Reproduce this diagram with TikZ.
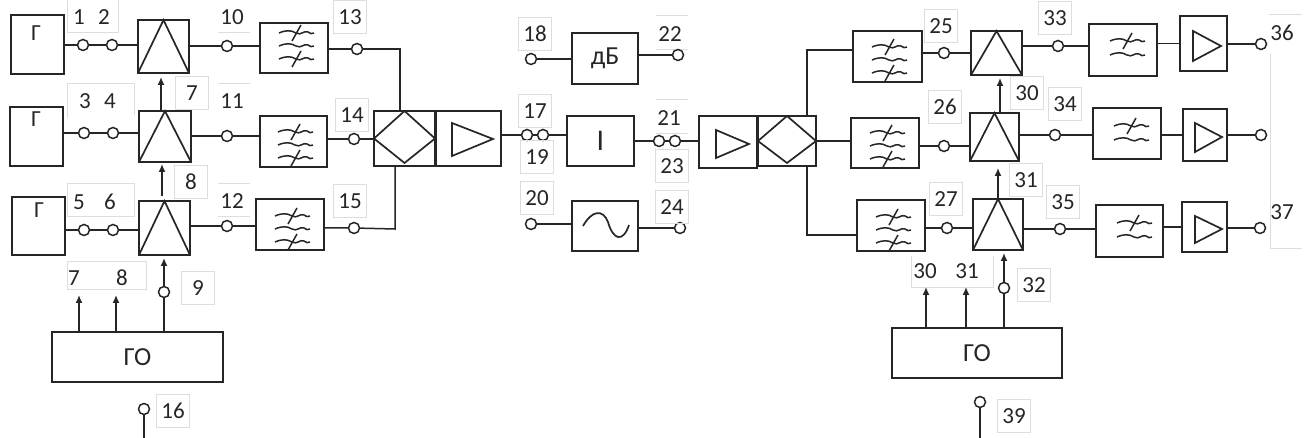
\documentclass[tikz,border=0pt]{standalone}
\usepackage{fontspec}
\setmainfont{Carlito}
\definecolor{ink}{HTML}{262626}
\definecolor{faint}{HTML}{DDDDDD}
\usetikzlibrary{arrows.meta}
\tikzset{
  wire/.style={draw=ink,line width=1.5pt},
  arrowwire/.style={wire,-{Latex[length=8pt,width=7pt]}},
  bx/.style={draw=ink,line width=1.7pt,fill=white,inner sep=0pt,outer sep=0pt,font=\fontsize{26}{26}\selectfont,text=ink},
  term/.style={circle,draw=ink,line width=1.5pt,fill=white,minimum size=11pt,inner sep=0pt},
  lab/.style={inner sep=0pt,font=\fontsize{23}{23}\selectfont,text=ink},
  flab/.style={lab,draw=faint,line width=.8pt,minimum width=33pt,minimum height=33pt},
  glyph/.style={draw=ink,line width=1.7pt,line join=miter},
  faintline/.style={draw=faint,line width=1pt},
  wave/.pic={\draw[draw=ink,line width=1.5pt] (-17,0) .. controls (-10,-3) and (-5,-3) .. (0,0) .. controls (5,3) and (8,-3) .. (12,-1) .. controls (14,1) and (16,1) .. (18,0);},
  slash/.pic={\draw[draw=ink,line width=1.5pt] (-4,8) -- (5,-8);},
  filtthree/.pic={
    \pic at (0,-13) {wave}; \pic at (0,0) {wave}; \pic at (0,13) {wave};
    \pic at (0,-13) {slash}; \pic at (0,13) {slash};},
  filttwo/.pic={
    \pic at (0,-7) {wave}; \pic at (0,7) {wave};
    \pic at (0,-7) {slash};}
}
\newcommand{\mkbox}[6]{%
  \pgfmathsetmacro{\bcx}{(#2+#4)/2}\pgfmathsetmacro{\bcy}{(#3+#5)/2}%
  \pgfmathsetmacro{\bw}{#4-#2}\pgfmathsetmacro{\bh}{#5-#3}%
  \node[bx,minimum width=\bw pt,minimum height=\bh pt] (#1) at (\bcx,\bcy) {#6};}
\newcommand{\peak}[1]{\draw[glyph] (#1.south west) -- (#1.north) -- (#1.south east);}
\newcommand{\rhomb}[1]{\draw[glyph] (#1.west) -- (#1.north) -- (#1.east) -- ([yshift=3pt]#1.south) -- cycle;}
\begin{document}
\begin{tikzpicture}[x=1pt,y=-1pt]
\useasboundingbox[fill=white] (0,0) rectangle (1310,438);
% faint label frames with open sides
\draw[faintline] (67,0) -- (67,33) -- (118,33) -- (118,0);
\draw[faintline] (67,118) -- (67,84) -- (134,84) -- (134,115);
\draw[faintline] (67,217) -- (67,184) -- (134,184) -- (134,217) -- cycle;
\draw[faintline] (218,33) -- (250,33);
\draw[faintline] (218,84) -- (250,84);
\draw[faintline] (218,184) -- (250,184) (218,217) -- (250,217);
\draw[faintline] (67,262) -- (146,262) -- (146,290) -- (67,290) -- cycle;
\draw[faintline] (656,16) -- (688,16) (656,50) -- (688,50);
\draw[faintline] (656,100) -- (688,100) (656,134) -- (688,134);
\draw[faintline] (911,256) -- (911,288) -- (993,288) -- (993,256);
\draw[faintline] (1269,15) -- (1302,15);
\draw[faintline] (1270,53) -- (1270,249) -- (1302,249);
% Left generators
\mkbox{g1}{11}{15}{64}{74}{}
\mkbox{g2}{10}{107}{63}{166}{}
\mkbox{g3}{12}{197}{65}{255}{}
\node[lab] (gt1) at (36,33) {Г};
\node[lab] (gt2) at (36,119) {Г};
\node[lab] (gt3) at (39,210) {Г};
% Left switches
\mkbox{a1}{138}{20}{189}{73}{}
\mkbox{a2}{139}{111}{191}{162}{}
\mkbox{a3}{139}{201}{190}{255}{}
\peak{a1}\peak{a2}\peak{a3}
% Left filters
\mkbox{f1}{260}{23}{328}{73}{}
\mkbox{f2}{260}{116}{327}{167}{}
\mkbox{f3}{256}{199}{324}{250}{}
\pic at (296,46) {filtthree};
\pic at (295,145) {filtthree};
\pic at (292,229) {filtthree};
% Left mixer and amp
\mkbox{m1}{374}{111}{435}{166}{}
\mkbox{p1}{436}{111}{501}{166}{}
\rhomb{m1}
\draw[glyph] (452,123) -- (493,139) -- (452,156) -- cycle;
% Centre boxes
\mkbox{db}{572}{33}{638}{84}{дБ}
\mkbox{ii}{567}{116}{634}{166}{\fontsize{30}{30}\selectfont I}
\mkbox{sw}{572}{201}{638}{251}{}
\draw[draw=ink,line width=1.7pt] (583,226) .. controls (592,210) and (603,209) .. (608,222) .. controls (613,240) and (623,243) .. (629,225);
% Right amp and mixer
\mkbox{p2}{699}{116}{757}{168}{}
\mkbox{m2}{758}{116}{816}{166}{}
\rhomb{m2}
\draw[glyph] (716,130) -- (749,144) -- (716,158) -- cycle;
% Right filters (input)
\mkbox{f4}{853}{31}{922}{82}{}
\mkbox{f5}{851}{118}{919}{168}{}
\mkbox{f6}{857}{200}{925}{251}{}
\pic at (889,60) {filtthree};
\pic at (887,146) {filtthree};
\pic at (893,230) {filtthree};
% Right switches
\mkbox{a4}{971}{31}{1022}{75}{}
\mkbox{a5}{970}{113}{1019}{161}{}
\mkbox{a6}{973}{199}{1023}{250}{}
\peak{a4}\peak{a5}\peak{a6}
% Right filters (output)
\mkbox{f7}{1089}{24}{1157}{76}{}
\mkbox{f8}{1093}{108}{1161}{159}{}
\mkbox{f9}{1096}{205}{1163}{257}{}
\pic at (1127,48) {filttwo};
\pic at (1131,133) {filttwo};
\pic at (1134,230) {filttwo};
% Output amps
\mkbox{p3}{1180}{16}{1227}{71}{}
\mkbox{p4}{1183}{109}{1227}{161}{}
\mkbox{p5}{1182}{202}{1227}{252}{}
\draw[glyph] (1193,31) -- (1221,46) -- (1193,61) -- cycle;
\draw[glyph] (1195,123) -- (1222,137) -- (1195,152) -- cycle;
\draw[glyph] (1195,216) -- (1222,229) -- (1195,243) -- cycle;
% GO boxes
\mkbox{go1}{52}{332}{223}{382}{ГО}
\mkbox{go2}{892}{328}{1062}{378}{ГО}
% Terminals
\foreach \n/\x/\y in {t1/83/45,t2/112/45,t3/84/133,t4/113/133,t5/84/230,t6/113/230,
  t10/227/46,t11/227/136,t12/227/226,t13/357/49,t14/354/139,t15/354/228,
  t17/527/135,t19/543/135,t18/531/59,t22/678/55,t20/531/224,t24/680/228,t21/659/141,t23/675/141,
  t25/944/53,t26/944/146,t27/947/228,t33/1058/46,t34/1055/135,t35/1060/229,
  t36/1261/44,t38/1261/135,t37/1260/228,t9/164/292,t16/144/409,t32/1004/288,t39/980/402}
  {\node[term] (\n) at (\x,\y) {};}
% Free ends and bends
\coordinate (b13) at (400,49);
\coordinate (b15) at (395,229);
\coordinate (b25) at (807,50);
\coordinate (b27) at (807,235);
\coordinate (e16) at (144,438);
\coordinate (e39) at (980,438);
\coordinate (s1) at (161,77);
\coordinate (s2) at (162,164);
\coordinate (s2a) at (162,196);
\coordinate (s3) at (164,258);
\coordinate (s4) at (1000,78);
\coordinate (s5) at (998,168);
\coordinate (s6) at (1004,253);
\coordinate (u1) at (79,295);
\coordinate (u2) at (116,295);
\coordinate (u3) at (926,287);
\coordinate (u4) at (966,287);
% Left connectors
\draw[wire] (g1.east |- t1) -- (t1) -- (t2) -- (a1.west |- t2);
\draw[wire] (g2.east |- t3) -- (t3) -- (t4) -- (a2.west |- t4);
\draw[wire] (g3.east |- t5) -- (t5) -- (t6) -- (a3.west |- t6);
\draw[wire] (a1.east |- t10) -- (t10) -- (f1.west |- t10);
\draw[wire] (a2.east |- t11) -- (t11) -- (f2.west |- t11);
\draw[wire] (a3.east |- t12) -- (t12) -- (f3.west |- t12);
\draw[wire] (f1.east |- t13) -- (t13) -- (b13) -- (b13 |- m1.north);
\draw[wire] (f2.east |- t14) -- (t14) -- (m1.west |- t14);
\draw[wire] (f3.east |- t15) -- (t15) -- (b15) -- (b15 |- m1.south);
\draw[arrowwire] (s1 |- a2.north) -- (s1);
\draw[arrowwire] (s2a) -- (s2);
\draw[wire] (t9) -- (t9 |- go1.north);
\draw[arrowwire] (t9) -- (s3);
\draw[arrowwire] (u1 |- go1.north) -- (u1);
\draw[arrowwire] (u2 |- go1.north) -- (u2);
\draw[wire] (t16) -- (e16);
% Centre connectors
\draw[wire] (p1.east |- t17) -- (t17) -- (t19) -- (ii.west |- t19);
\draw[wire] (t18) -- (db.west |- t18);
\draw[wire] (db.east |- t22) -- (t22);
\draw[wire] (t20) -- (sw.west |- t20);
\draw[wire] (sw.east |- t24) -- (t24);
\draw[wire] (ii.east |- t21) -- (t21) -- (t23) -- (p2.west |- t23);
% Right connectors
\draw[wire] (b25 |- m2.north) -- (b25) -- (f4.west |- b25);
\draw[wire] (m2.east) -- (f5.west |- m2.east);
\draw[wire] (b27 |- m2.south) -- (b27) -- (f6.west |- b27);
\draw[wire] (f4.east |- t25) -- (t25) -- (a4.west |- t25);
\draw[wire] (f5.east |- t26) -- (t26) -- (a5.west |- t26);
\draw[wire] (f6.east |- t27) -- (t27) -- (a6.west |- t27);
\draw[wire] (a4.east |- t33) -- (t33) -- (f7.west |- t33);
\draw[wire] (a5.east |- t34) -- (t34) -- (f8.west |- t34);
\draw[wire] (a6.east |- t35) -- (t35) -- (f9.west |- t35);
\draw[wire] (f7.east |- p3.west) -- (p3.west);
\draw[wire] (f8.east |- p4.west) -- (p4.west);
\draw[wire] (f9.east |- p5.west) -- (p5.west);
\draw[wire] (p3.east |- t36) -- (t36);
\draw[wire] (p4.east |- t38) -- (t38);
\draw[wire] (p5.east |- t37) -- (t37);
\draw[arrowwire] (s4 |- a5.north) -- (s4);
\draw[arrowwire] (s5 |- a6.north) -- (s5);
\draw[wire] (t32) -- (t32 |- go2.north);
\draw[arrowwire] (t32) -- (s6);
\draw[arrowwire] (u3 |- go2.north) -- (u3);
\draw[arrowwire] (u4 |- go2.north) -- (u4);
\draw[wire] (t39) -- (e39);
% Plain labels
\foreach \n/\t/\x/\y in {l1/1/79/17,l2/2/104/17,l3/3/85/101,l4/4/110/101,l5/5/79/202,l6/6/110/202,
  l10/10/232/17,l11/11/232/101,l12/12/232/201,l7b/7/74/278,l8b/8/122/278,
  l21/21/669/118,l22/22/670/34,l30b/30/925/271,l31b/31/967/271,l36/36/1282/33,l37/37/1282/212}
  {\node[lab] (\n) at (\x,\y) {\t};}
% Framed labels
\foreach \n/\t/\x/\y in {l7/7/192/93,l8/8/191/182,l9/9/198/288,l13/13/350/17,l14/14/352/115,l15/15/350/201,l16/16/173/411,
  l17/17/535/111,l18/18/535/34,l19/19/537/157,l20/20/537/198,l23/23/672/166,l24/24/672/207,
  l25/25/941/26,l26/26/945/107,l27/27/946/199,l30/30/1027/93,l31/31/1026/180,l32/32/1034/285,
  l33/33/1055/18,l34/34/1065/104,l35/35/1063/202,l39/39/1014/416}
  {\node[flab] (\n) at (\x,\y) {\t};}
\end{tikzpicture}
\end{document}
